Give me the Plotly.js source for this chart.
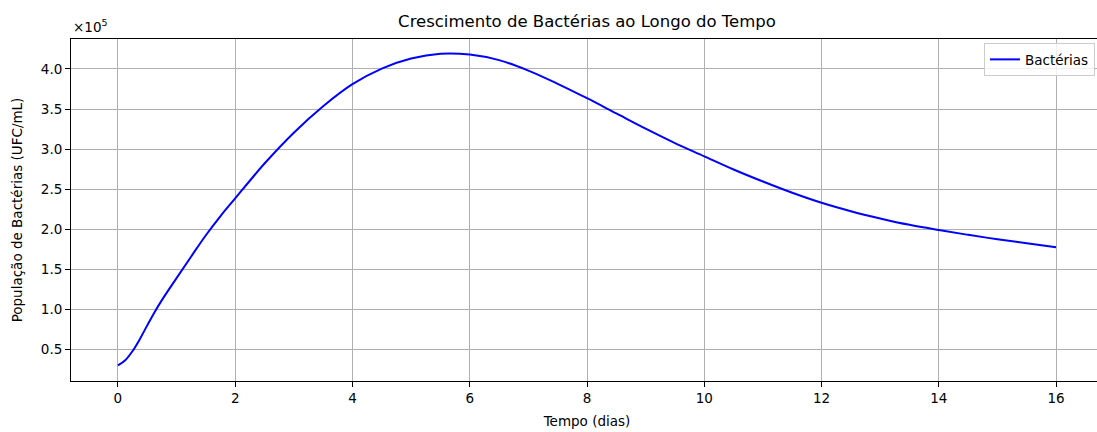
<!DOCTYPE html>
<html>
<head>
<meta charset="utf-8">
<script src="https://cdn.plot.ly/plotly-3.0.1.min.js"></script>
<style>
html,body{margin:0;padding:0;overflow:hidden;background:#fff;}
#chart{width:1104px;height:432px;}
</style>
</head>
<body>
<div id="chart"></div>
<script>
// Time (days)
const tempoDias = [0, 0.125, 0.25, 0.375, 0.5, 0.625, 0.75, 1, 1.25, 1.5, 1.75, 2, 2.25, 2.5, 3, 3.5, 4, 4.5, 5, 5.5, 6, 6.5, 7, 7.5, 8, 8.5, 9, 9.5, 10, 10.5, 11, 11.5, 12, 12.5, 13, 13.5, 14, 14.5, 15, 15.5, 16];
// Bacterial population (UFC/mL)
const populacao = [30000, 36500, 48000, 63000, 80000, 96500, 111500, 139000, 166000, 192500, 216500, 238500, 260500, 282000, 320500, 353500, 381000, 400500, 413000, 419000, 418000, 411000, 398000, 381500, 363500, 344500, 325500, 307500, 291000, 274500, 259500, 245500, 233000, 222500, 213500, 205500, 199000, 193000, 187500, 182500, 177500];
const serieNome = "Bactérias";
const yTicks = [0.5, 1.0, 1.5, 2.0, 2.5, 3.0, 3.5, 4.0];
const xTicks = [0, 2, 4, 6, 8, 10, 12, 14, 16];

const escala = 1e5;
const yVals = populacao.map(v => v / escala);

const font = "DejaVu Sans, sans-serif";

const trace = {
  x: tempoDias,
  y: yVals,
  type: "scatter",
  mode: "lines",
  name: serieNome,
  line: {color: "#0000ff", width: 2, shape: "spline", smoothing: 1}
};

const axisCommon = {
  showgrid: true,
  gridcolor: "#b0b0b0",
  gridwidth: 1,
  zeroline: false,
  showline: true,
  linecolor: "#000",
  linewidth: 1,
  mirror: true,
  ticks: "outside",
  ticklen: 5,
  tickwidth: 1,
  tickcolor: "#000",
  tickfont: {family: font, size: 13.5, color: "#000"}
};

const layout = {
  width: 1104,
  height: 432,
  margin: {l: 71, r: 1, t: 39, b: 51},
  paper_bgcolor: "#fff",
  plot_bgcolor: "#fff",
  font: {family: font, color: "#000"},
  title: {
    text: "Crescimento de Bactérias ao Longo do Tempo",
    font: {family: font, size: 16.5, color: "#000"},
    x: (71 + (1103 - 71) / 2) / 1104, xanchor: "center",
    y: 1 - 21 / 432, yanchor: "middle", yref: "container"
  },
  xaxis: Object.assign({}, axisCommon, {
    range: [-0.8, 16.8],
    tickvals: xTicks,
    ticktext: xTicks.map(String),
    title: {text: "Tempo (dias)", font: {family: font, size: 13.5, color: "#000"}, standoff: 11}
  }),
  yaxis: Object.assign({}, axisCommon, {
    range: [0.106, 4.374],
    tickvals: yTicks,
    ticktext: yTicks.map(v => v.toFixed(1)),
    title: {text: "População de Bactérias (UFC/mL)", font: {family: font, size: 13.5, color: "#000"}, standoff: 15}
  }),
  showlegend: true,
  legend: {
    x: 0.9922, xanchor: "right",
    y: 0.988, yanchor: "top",
    bgcolor: "rgba(255,255,255,0.8)",
    bordercolor: "#cccccc",
    borderwidth: 1,
    font: {family: font, size: 13.5, color: "#000"}
  },
  annotations: [{
    text: "×10<sup>5</sup>",
    xref: "paper", yref: "paper",
    x: 0, y: 1, xanchor: "left", yanchor: "bottom",
    yshift: 2,
    showarrow: false,
    font: {family: font, size: 13.5, color: "#000"}
  }]
};

Plotly.newPlot("chart", [trace], layout, {displayModeBar: false, staticPlot: true});
</script>
</body>
</html>
